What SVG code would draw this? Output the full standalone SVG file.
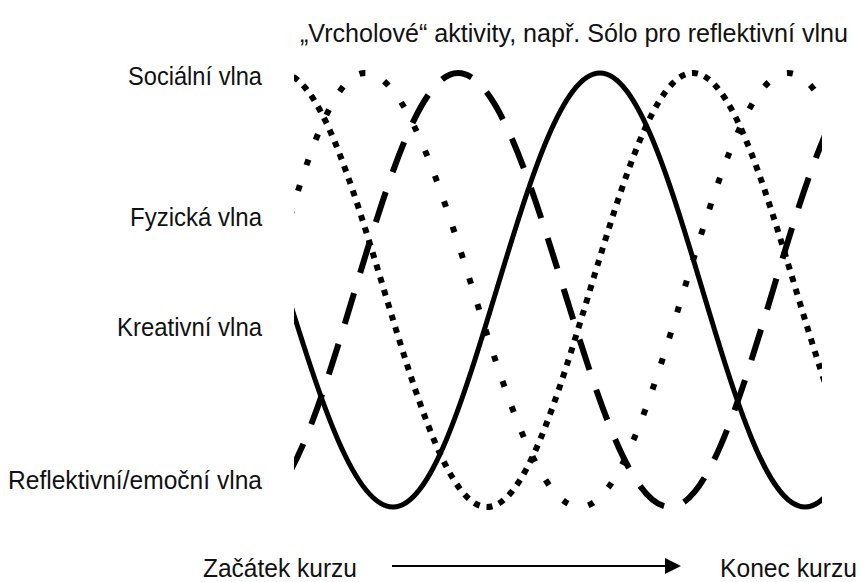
<svg xmlns="http://www.w3.org/2000/svg" width="861" height="582" viewBox="0 0 861 582">
  <defs>
    <style>
      .lbl { font-family: "Liberation Sans", Arial, Helvetica, sans-serif; font-size: 25px; fill: #111; }
      .wave { fill: none; stroke: #000; stroke-linecap: butt; }
      .solid { stroke-width: 5; }
      .dashed { stroke-width: 6; stroke-dasharray: 32 21; }
      .dense { stroke-width: 6; stroke-dasharray: 6 7; }
      .sparse { stroke-width: 6; stroke-dasharray: 6 21; }
    </style>
    <clipPath id="plot">
      <rect x="294" y="0" width="528" height="582"/>
    </clipPath>
    <marker id="arrow" viewBox="0 0 16 16" refX="0" refY="8" markerWidth="16" markerHeight="16" markerUnits="userSpaceOnUse" orient="auto">
      <polygon points="0,0 16,8 0,16" fill="#000"/>
    </marker>
  </defs>
  <rect width="861" height="582" fill="#fff"/>

  <g id="title">
    <text class="lbl" x="300" y="42" textLength="548" lengthAdjust="spacingAndGlyphs">„Vrcholové“ aktivity, např. Sólo pro reflektivní vlnu</text>
  </g>
  <g id="label-social">
    <text class="lbl" x="262" y="85" text-anchor="end" textLength="134" lengthAdjust="spacingAndGlyphs">Sociální vlna</text>
  </g>
  <g id="label-physical">
    <text class="lbl" x="262" y="226" text-anchor="end" textLength="132" lengthAdjust="spacingAndGlyphs">Fyzická vlna</text>
  </g>
  <g id="label-creative">
    <text class="lbl" x="262" y="336" text-anchor="end" textLength="145" lengthAdjust="spacingAndGlyphs">Kreativní vlna</text>
  </g>
  <g id="label-reflective">
    <text class="lbl" x="262" y="489" text-anchor="end" textLength="254" lengthAdjust="spacingAndGlyphs">Reflektivní/emoční vlna</text>
  </g>
  <g id="label-start">
    <text class="lbl" x="203" y="577" textLength="154" lengthAdjust="spacingAndGlyphs">Začátek kurzu</text>
  </g>
  <g id="label-end">
    <text class="lbl" x="857" y="577" text-anchor="end" textLength="137" lengthAdjust="spacingAndGlyphs">Konec kurzu</text>
  </g>

  <g id="waves" clip-path="url(#plot)">
    <g id="wave-solid">
      <path class="wave solid" d="M 286,290 C 320.9,401.2 354.3,507 393,507 C 430.5,507 462.7,401.2 496.5,290 C 530.3,178.8 562.5,73 600,73 C 637.1,73 669.1,178.8 702.5,290 C 735.9,401.2 767.9,507 805,507 C 842.3,507 874.4,401.2 908,290"/>
    </g>
    <g id="wave-dashed">
      <path class="wave dashed" d="M 252,507 C 289.3,507 321.4,401.2 355,290 C 388.6,178.8 420.7,73 458,73 C 496.4,73 529.4,178.8 564,290 C 598.6,401.2 631.6,507 670,507 C 707.3,507 739.4,401.2 773,290 C 806.6,178.8 838.7,73 876,73"/>
    </g>
    <g id="wave-dense">
      <path class="wave dense" d="M 281,73 C 318.3,73 350.4,178.8 384,290 C 417.6,401.2 449.7,507 487,507 C 524.3,507 556.4,401.2 590,290 C 623.6,178.8 655.7,73 693,73 C 730.3,73 762.4,178.8 796,290 C 829.6,401.2 861.7,507 899,507"/>
    </g>
    <g id="wave-sparse">
      <path class="wave sparse" d="M 165,507 C 202.6,507 235.1,401.2 269,290 C 300.3,178.8 330.3,73 365,73 C 404.1,73 437.8,178.8 473,290 C 507.9,401.2 541.3,507 580,507 C 617.6,507 650.1,401.2 684,290 C 717.9,178.8 750.4,73 788,73 C 825.6,73 858.1,178.8 892,290"/>
    </g>
  </g>

  <g id="connectors">
    <line x1="392" y1="566" x2="665" y2="566" stroke="#000" stroke-width="2" marker-end="url(#arrow)"/>
  </g>
</svg>
